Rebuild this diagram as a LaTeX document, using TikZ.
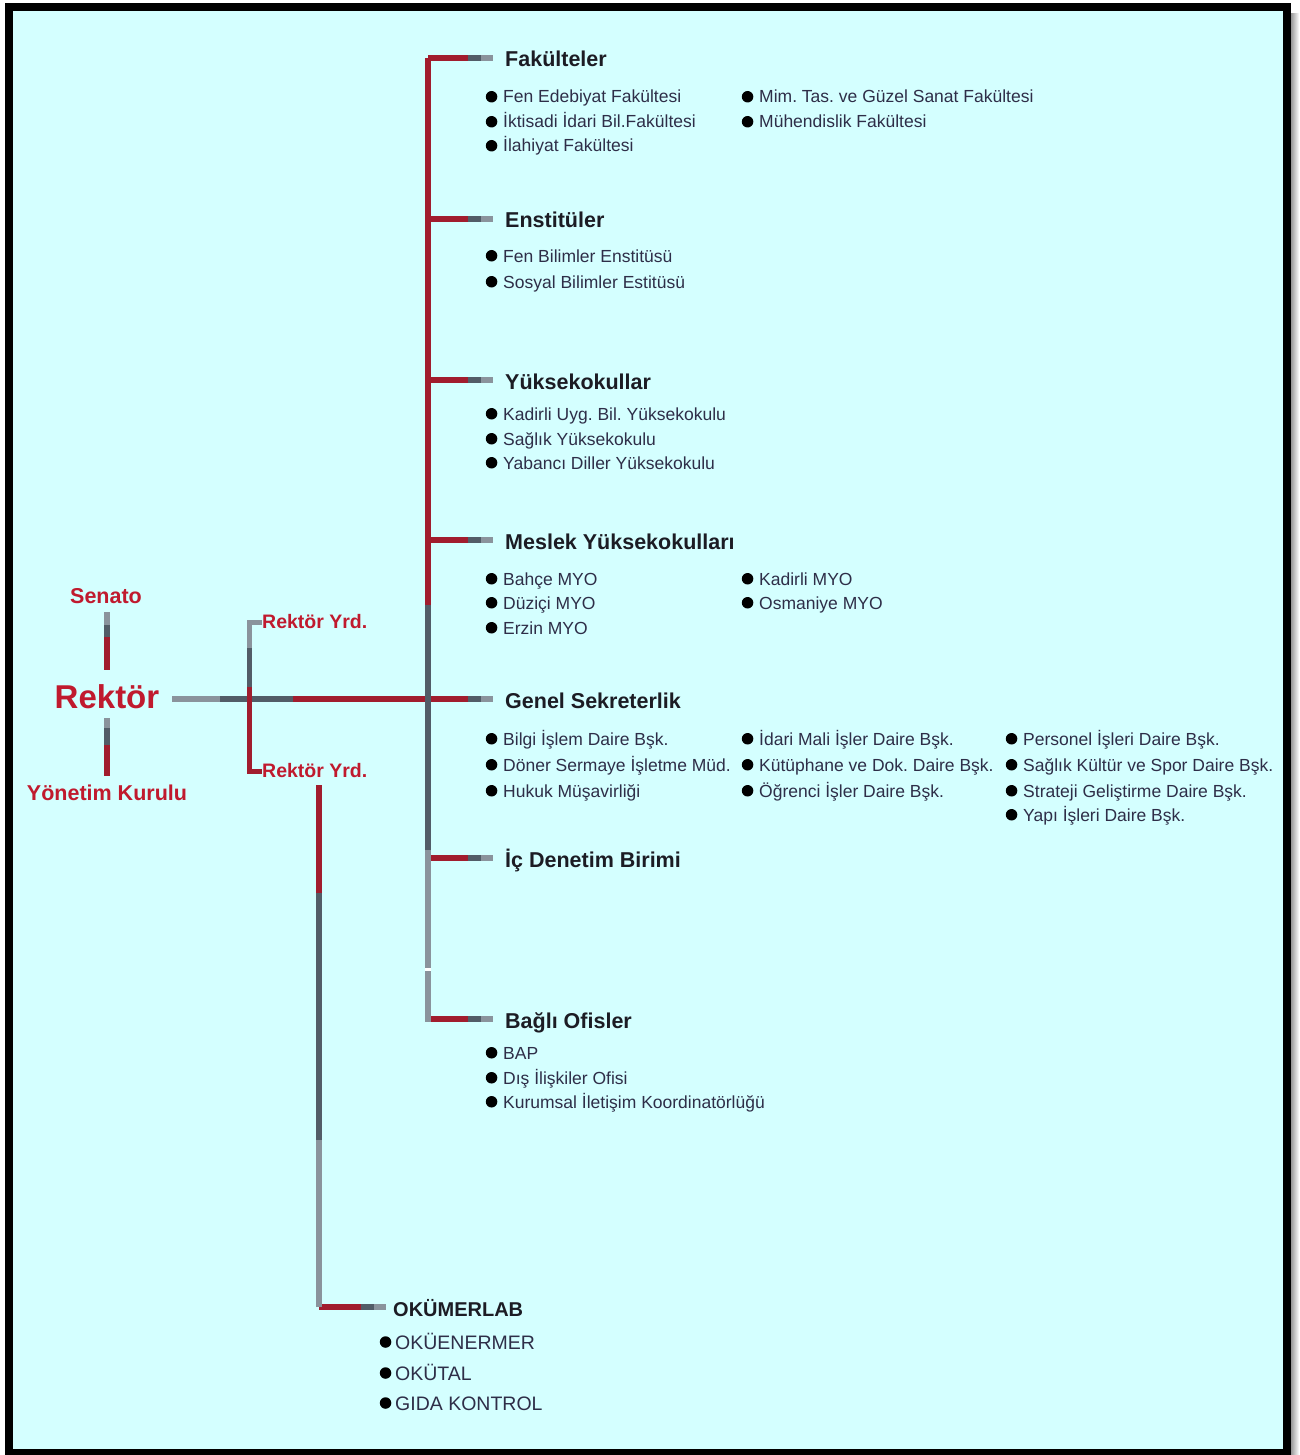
\documentclass[tikz,border=0pt]{standalone}
\usepackage{fontspec}
\setmainfont{Liberation Sans}
\usetikzlibrary{positioning,calc}
\definecolor{bgcyan}{HTML}{D4FFFF}
\definecolor{linered}{HTML}{A11D2E}
\definecolor{linedark}{HTML}{525C67}
\definecolor{linelight}{HTML}{8A939C}
\definecolor{txtred}{HTML}{C01A2E}
\definecolor{headtxt}{HTML}{1C1C24}
\definecolor{itemtxt}{HTML}{2E2E48}
\frenchspacing

\begin{document}
\begin{tikzpicture}[x=1pt,y=-1pt,
lnred/.style={draw=linered,line width=6pt},
lndark/.style={draw=linedark,line width=6pt},
lnlight/.style={draw=linelight,line width=6pt},
branch/.style={lnlight,shorten >=#1,postaction={draw=linedark,shorten >=#1+12pt},postaction={draw=linered,shorten >=#1+25pt}},
branch/.default=12pt,
bul/.style={circle,fill=black,inner sep=0,minimum size=11.5pt},
itembase/.style={anchor=base west,inner sep=0,text=itemtxt,text height=13pt,text depth=0.5pt,font=\fontsize{17.5}{20}\selectfont},
item/.style={itembase,label={[bul,label distance=5.5pt]left:{}}},
okitem/.style={itembase,text height=14.5pt,font=\fontsize{19.5}{22}\selectfont,label={[bul,label distance=3.5pt]left:{}}},
head/.style={anchor=base west,inner sep=0,text=headtxt,text height=15.5pt,text depth=0pt,font=\bfseries\fontsize{21.5}{24}\selectfont},
redtxt/.style={inner sep=0,text=txtred,font=\bfseries\fontsize{21.5}{24}\selectfont},
]
\useasboundingbox (0,0) rectangle (1299,1455);
% frame
\shade[left color=black!45,right color=white] (1290,14) rectangle (1299,1455);
\draw[line width=8pt,fill=bgcyan] (9,7) rectangle (1286.5,1453);

% rector and boards
\node[redtxt,font=\bfseries\fontsize{33}{36}\selectfont] (rek) at (107,697) {Rektör};
\node[redtxt] (sen) at (106,596) {Senato};
\node[redtxt] (yon) at (107,793) {Yönetim Kurulu};
\node[redtxt,anchor=west,font=\bfseries\fontsize{19.5}{22}\selectfont] (yrd1) at (262,622) {Rektör Yrd.};
\node[redtxt,anchor=west,font=\bfseries\fontsize{19.5}{22}\selectfont] (yrd2) at (262,771) {Rektör Yrd.};

\coordinate (s0) at (107,612);
\coordinate (s1) at (107,625);
\coordinate (s2) at (107,637);
\coordinate (s3) at (107,670);
\draw[lnlight] (s0)--(s1);
\draw[lndark] (s1)--(s2);
\draw[lnred] (s2)--(s3);
\coordinate (u0) at (107,718);
\coordinate (u1) at (107,728);
\coordinate (u2) at (107,745);
\coordinate (u3) at (107,776);
\draw[lnlight] (u0)--(u1);
\draw[lndark] (u1)--(u2);
\draw[lnred] (u2)--(u3);

% main line
\coordinate (h0) at (172,699);
\coordinate (h1) at (220,699);
\coordinate (h2) at (293,699);
\draw[lnlight] (h0)--(h1);
\draw[lndark] (h1)--(h2);

% vice rectors
\coordinate (r1) at (249,622);
\coordinate (r2) at (249,648);
\coordinate (r3) at (249,687);
\coordinate (r4) at (249,771);
\draw[lnlight,line width=5pt] (yrd1.west)--(r1)--(r2);
\draw[lndark,line width=5pt] (r2)--(r3);
\draw[lnred,line width=5pt] (r3)--(r4)--(yrd2.west);

% headings
\coordinate (bFak) at (428,58);
\coordinate (bEns) at (428,219);
\coordinate (bYuk) at (428,380);
\coordinate (bMes) at (428,540);
\coordinate (bGen) at (428,699);
\coordinate (bIcd) at (428,858);
\coordinate (bOfs) at (428,1019);
\node[head] (fak) at (505,67) {Fakülteler};
\node[head] (ens) at (505,228) {Enstitüler};
\node[head] (yuk) at (505,389) {Yüksekokullar};
\node[head] (mes) at (505,549) {Meslek Yüksekokulları};
\node[head] (gen) at (505,708) {Genel Sekreterlik};
\node[head] (icd) at (505,867) {İç Denetim Birimi};
\node[head] (ofs) at (505,1028) {Bağlı Ofisler};

\draw[lnred] (h2)--(bGen);
\draw[branch] (bFak)--(bFak -| fak.west);
\draw[branch] (bEns)--(bEns -| ens.west);
\draw[branch] (bYuk)--(bYuk -| yuk.west);
\draw[branch] (bMes)--(bMes -| mes.west);
\draw[branch] (bGen)--(bGen -| gen.west);
\draw[branch] (bIcd)--(bIcd -| icd.west);
\draw[branch] (bOfs)--(bOfs -| ofs.west);

% trunk
\coordinate (t1) at (428,605);
\coordinate (t2) at (428,850);
\coordinate (t3) at (428,968);
\coordinate (t4) at (428,971);
\draw[lnred,line cap=square] (t1)--(bFak);
\draw[lndark] (t1)--(t2);
\draw[lnlight] (t2)--(t3);
\draw[white,line width=6pt] (t3)--(t4);
\draw[lnlight,shorten >=-3pt] (t4)--(bOfs);

% items
\node[item] (f1) at (503,103) {Fen Edebiyat Fakültesi};
\node[item] (f2) at (503,128) {İktisadi İdari Bil.Fakültesi};
\node[item] (f3) at (503,152) {İlahiyat Fakültesi};
\node[item] (f4) at (759,103) {Mim. Tas. ve Güzel Sanat Fakültesi};
\node[item] (f5) at (759,128) {Mühendislik Fakültesi};

\node[item] (e1) at (503,262) {Fen Bilimler Enstitüsü};
\node[item] (e2) at (503,288) {Sosyal Bilimler Estitüsü};

\node[item] (yk1) at (503,420) {Kadirli Uyg. Bil. Yüksekokulu};
\node[item] (yk2) at (503,445) {Sağlık Yüksekokulu};
\node[item] (yk3) at (503,469) {Yabancı Diller Yüksekokulu};

\node[item] (m1) at (503,585) {Bahçe MYO};
\node[item] (m2) at (503,609) {Düziçi MYO};
\node[item] (m3) at (503,634) {Erzin MYO};
\node[item] (m4) at (759,585) {Kadirli MYO};
\node[item] (m5) at (759,609) {Osmaniye MYO};

\node[item] (g1) at (503,745) {Bilgi İşlem Daire Bşk.};
\node[item] (g2) at (503,771) {Döner Sermaye İşletme Müd.};
\node[item] (g3) at (503,797) {Hukuk Müşavirliği};
\node[item] (g4) at (759,745) {İdari Mali İşler Daire Bşk.};
\node[item] (g5) at (759,771) {Kütüphane ve Dok. Daire Bşk.};
\node[item] (g6) at (759,797) {Öğrenci İşler Daire Bşk.};
\node[item] (g7) at (1023,745) {Personel İşleri Daire Bşk.};
\node[item] (g8) at (1023,771) {Sağlık Kültür ve Spor Daire Bşk.};
\node[item] (g9) at (1023,797) {Strateji Geliştirme Daire Bşk.};
\node[item] (g10) at (1023,821) {Yapı İşleri Daire Bşk.};

\node[item] (o1) at (503,1059) {BAP};
\node[item] (o2) at (503,1084) {Dış İlişkiler Ofisi};
\node[item] (o3) at (503,1108) {Kurumsal İletişim Koordinatörlüğü};

% lab
\coordinate (v0) at (319,785);
\coordinate (v1) at (319,893);
\coordinate (v2) at (319,1140);
\coordinate (v3) at (319,1307);
\node[head,font=\bfseries\fontsize{20}{23}\selectfont] (okm) at (393,1316) {OKÜMERLAB};
\draw[branch=7pt] (v3)--(v3 -| okm.west);
\draw[lnred] (v0)--(v1);
\draw[lndark] (v1)--(v2);
\draw[lnlight,line cap=square] (v2)--(v3);
\node[okitem] (k1) at (395,1349) {OKÜENERMER};
\node[okitem] (k2) at (395,1380) {OKÜTAL};
\node[okitem] (k3) at (395,1410) {GIDA KONTROL};
\end{tikzpicture}
\end{document}
